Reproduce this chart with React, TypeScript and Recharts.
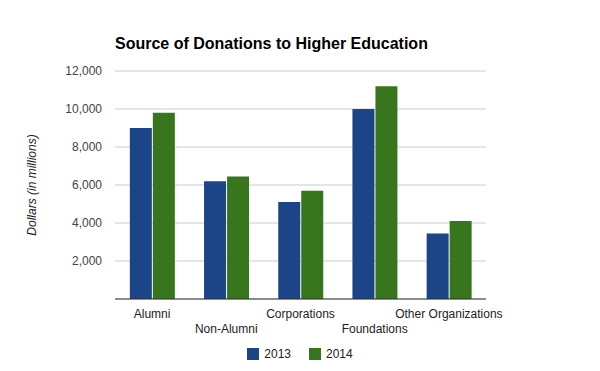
import React from 'react';
import { BarChart, Bar, XAxis, YAxis, CartesianGrid, Legend } from 'recharts';

const categories = ['Alumni', 'Non-Alumni', 'Corporations', 'Foundations', 'Other Organizations'];
const values2013 = [9000, 6200, 5100, 10000, 3450];
const values2014 = [9800, 6450, 5700, 11200, 4100];
const yTicks = [0, 2000, 4000, 6000, 8000, 10000, 12000];

const COLORS = { y2013: '#1c4587', y2014: '#38761d' };
const FONT = '"Liberation Sans", Arial, sans-serif';

const data = categories.map((name, i) => ({
    name,
    y2013: values2013[i],
    y2014: values2014[i],
}));

// labels alternate between two rows, like the original
const StaggeredTick = (props: any) => {
    const { x, y, payload } = props;
    const dy = payload.index % 2 === 0 ? 11 : 26;
    return (
        <text x={x} y={y} dy={dy} textAnchor="middle" fill="#222" fontSize={12} fontFamily={FONT}>
            {payload.value}
        </text>
    );
};

const LegendContent = () => (
    <div style={{ display: 'flex', justifyContent: 'center', paddingTop: 6, fontFamily: FONT, fontSize: 12, color: '#222' }}>
        {[['2013', COLORS.y2013], ['2014', COLORS.y2014]].map(([label, color]) => (
            <div key={label} style={{ display: 'flex', alignItems: 'center', margin: '0 9px' }}>
                <span style={{ display: 'inline-block', width: 12, height: 12, background: color, marginRight: 5 }} />
                <span>{label}</span>
            </div>
        ))}
    </div>
);

const App: React.FC = () => {
    return (
        <div style={{ position: 'absolute', left: 0, top: 0, width: 600, height: 371, background: '#fff' }}>
            <div style={{ position: 'absolute', left: 115, top: 35, fontFamily: FONT, fontWeight: 'bold', fontSize: 16, color: '#000' }}>
                Source of Donations to Higher Education
            </div>
            <BarChart
                width={600}
                height={371}
                data={data}
                margin={{ top: 71, right: 114, left: 0, bottom: 0 }}
                barCategoryGap="20%"
                barGap={1}
            >
                <CartesianGrid vertical={false} stroke="#cccccc" />
                <XAxis
                    dataKey="name"
                    height={42}
                    axisLine={{ stroke: '#333', strokeWidth: 1 }}
                    tickLine={false}
                    interval={0}
                    tick={<StaggeredTick />}
                />
                <YAxis
                    width={115}
                    domain={[0, 12000]}
                    ticks={yTicks}
                    axisLine={false}
                    tickLine={false}
                    tickSize={0}
                    tickMargin={13}
                    tickFormatter={(v: number) => (v === 0 ? '' : v.toLocaleString('en-US'))}
                    tick={{ fill: '#444', fontSize: 12, fontFamily: FONT }}
                    label={{
                        value: 'Dollars (in millions)',
                        angle: -90,
                        position: 'center',
                        dx: -26,
                        style: { fill: '#222', fontSize: 12, fontStyle: 'italic', fontFamily: FONT, textAnchor: 'middle' },
                    }}
                />
                <Legend verticalAlign="bottom" height={30} wrapperStyle={{ left: 0, width: 600 }} content={<LegendContent />} />
                <Bar dataKey="y2013" fill={COLORS.y2013} isAnimationActive={false} />
                <Bar dataKey="y2014" fill={COLORS.y2014} isAnimationActive={false} />
            </BarChart>
        </div>
    );
};

export default App;
